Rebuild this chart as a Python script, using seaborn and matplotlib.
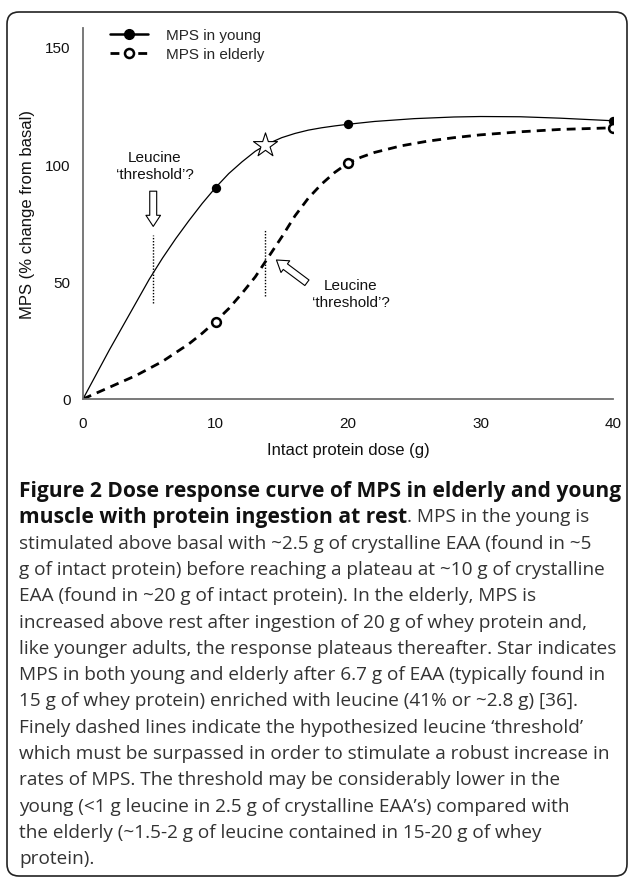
import matplotlib
matplotlib.use("Agg")
import matplotlib.pyplot as plt
import matplotlib.transforms as mtransforms
import seaborn as sns
from matplotlib.lines import Line2D
from matplotlib.patches import FancyBboxPatch

# measured points (intact protein dose in g, MPS % change from basal)
dose = [0, 10, 20, 40]
mps_young = [0, 90, 117, 118.5]
mps_elderly = [0, 33, 100.5, 115.5]

# fitted curves
curve_young_dose = [0, 1, 2, 3, 4, 5, 6, 7, 8, 9, 10, 11, 12, 13, 14, 15, 16, 17, 18,
                    19, 20, 22, 25, 28, 30, 33, 36, 40]
curve_young_mps = [0, 10.5, 21, 31, 41, 51, 60, 68.3, 76, 83.3, 90, 96, 101, 105.5,
                   108.8, 111.3, 113.1, 114.5, 115.5, 116.3, 117, 118.2, 119.4, 120.1,
                   120.3, 120.2, 119.6, 118.5]
curve_elderly_dose = [0, 2, 4, 6, 8, 9, 10, 11, 12, 13, 14, 15, 16, 17, 18, 19, 20,
                      21, 22, 24, 26, 28, 30, 33, 36, 40]
curve_elderly_mps = [0, 5, 10, 16, 23.5, 28, 33, 38.5, 45, 52, 60.5, 69, 78, 85.5,
                     91.5, 96.5, 100.5, 103, 105, 107.8, 109.8, 111.3, 112.5, 113.8,
                     114.8, 115.5]

# star: leucine-enriched EAA
star_dose = [13.7]
star_mps = [108]

# hypothesized leucine thresholds (dose, low, high)
threshold_young = (5.3, 41, 70)
threshold_elderly = (13.7, 44, 72)

caption_bold_1 = "Figure 2 Dose response curve of MPS in elderly and young"
caption_bold_2 = "muscle with protein ingestion at rest"
caption_rest_2 = ". MPS in the young is"
caption_lines = [
    "stimulated above basal with ~2.5 g of crystalline EAA (found in ~5",
    "g of intact protein) before reaching a plateau at ~10 g of crystalline",
    "EAA (found in ~20 g of intact protein). In the elderly, MPS is",
    "increased above rest after ingestion of 20 g of whey protein and,",
    "like younger adults, the response plateaus thereafter. Star indicates",
    "MPS in both young and elderly after 6.7 g of EAA (typically found in",
    "15 g of whey protein) enriched with leucine (41% or ~2.8 g) [36].",
    "Finely dashed lines indicate the hypothesized leucine \u2018threshold\u2019",
    "which must be surpassed in order to stimulate a robust increase in",
    "rates of MPS. The threshold may be considerably lower in the",
    "young (<1 g leucine in 2.5 g of crystalline EAA\u2019s) compared with",
    "the elderly (~1.5-2 g of leucine contained in 15-20 g of whey",
    "protein).",
]

sns.set_theme(style="white")
plt.rcParams["font.family"] = ["Liberation Sans", "DejaVu Sans"]

W, H = 629, 878
fig = plt.figure(figsize=(W / 100, H / 100), dpi=100)
ax = fig.add_axes([83 / W, 1 - 400 / H, 530 / W, 371 / H])

# curves
sns.lineplot(x=curve_young_dose, y=curve_young_mps, color="black", lw=0.9, ax=ax)
sns.lineplot(x=curve_elderly_dose, y=curve_elderly_mps, color="black", lw=2.0, ax=ax)
ax.lines[-1].set_dashes([3.2, 2.2])

# markers
sns.scatterplot(x=dose[1:], y=mps_young[1:], color="black", s=45, edgecolor="black",
                linewidth=0, zorder=5, ax=ax)
sns.scatterplot(x=dose[1:], y=mps_elderly[1:], facecolor="white", edgecolor="black",
                s=40, linewidth=1.8, zorder=5, ax=ax)
sns.scatterplot(x=star_dose, y=star_mps, marker="*", s=330, facecolor="white",
                edgecolor="black", linewidth=0.8, zorder=6, ax=ax)

# threshold lines
for x0, y0, y1 in (threshold_young, threshold_elderly):
    ax.plot([x0, x0], [y0, y1], color="black", lw=1.0, ls=(0, (1, 1.2)))

arrow_style = "simple,head_length=0.8,head_width=1.05,tail_width=0.5"
ax.annotate("", xy=(5.3, 73.5), xytext=(5.3, 88.5),
            arrowprops=dict(arrowstyle=arrow_style, fc="white", ec="black",
                            lw=0.8, mutation_scale=10, shrinkA=0, shrinkB=0))
ax.annotate("", xy=(14.6, 59.2), xytext=(16.9, 49.5),
            arrowprops=dict(arrowstyle=arrow_style, fc="white", ec="black",
                            lw=0.8, mutation_scale=10, shrinkA=0, shrinkB=0))
ax.text(5.4, 99.5, "Leucine\n\u2018threshold\u2019?", ha="center", va="center",
        fontsize=11, linespacing=1.3, color="#111111")
ax.text(20.2, 45, "Leucine\n\u2018threshold\u2019?", ha="center", va="center",
        fontsize=11, linespacing=1.3, color="#111111")

# axes styling
ax.set_xlim(0, 40)
ax.set_ylim(0, 158)
ax.set_xticks([0, 10, 20, 30, 40])
ax.set_yticks([0, 50, 100, 150])
sns.despine(ax=ax)
for side in ("left", "bottom"):
    ax.spines[side].set_color("#6e6e6e")
    ax.spines[side].set_linewidth(1.3)
ax.tick_params(axis="x", direction="in", length=4, width=1.0, color="#6e6e6e",
               pad=12, labelsize=11, labelcolor="#111111")
ax.tick_params(axis="y", length=0, pad=9, labelsize=11, labelcolor="#111111")
ax.set_xlabel("Intact protein dose (g)", fontsize=12, labelpad=9, color="#111111")
ax.set_ylabel("MPS (% change from basal)", fontsize=12, color="#111111")
ax.yaxis.set_label_coords(-0.09, 0.5)

handles = [
    Line2D([], [], color="black", lw=1.8, marker="o", ms=7),
    Line2D([], [], color="black", lw=2.0, ls=(0, (3.2, 6.8)), marker="o", ms=6.5,
           mfc="white", mew=1.8),
]
ax.legend(handles, ["MPS in young", "MPS in elderly"], loc="upper left",
          bbox_to_anchor=(0.051, 1.0), frameon=False, fontsize=11,
          handlelength=2.5, handletextpad=1.15, labelspacing=0.32,
          borderpad=0, borderaxespad=0)

# caption, font sizes fitted to the reference line widths
cap_font = ["Open Sans", "DejaVu Sans"]
cap_x = 19 / W
line_h = 26.3
renderer = fig.canvas.get_renderer()


def fitted_size(text, weight, target_px):
    probe = fig.text(0, 0, text, family=cap_font, fontweight=weight, fontsize=12)
    w = probe.get_window_extent(renderer).width
    probe.remove()
    return 12 * target_px / w


bold_size = fitted_size(caption_bold_1, "bold", 600)
reg_size = fitted_size(caption_lines[0], "normal", 573)

fig.text(cap_x, 1 - 491 / H, caption_bold_1, family=cap_font, fontweight="bold",
         fontsize=bold_size, va="center", color="#111111")
bold2 = fig.text(cap_x, 1 - (491 + line_h) / H, caption_bold_2, family=cap_font,
                 fontweight="bold", fontsize=bold_size, va="center", color="#111111")
bb = bold2.get_window_extent(renderer)
fig.text(bb.x1 / W, 1 - (491 + line_h) / H, caption_rest_2, family=cap_font,
         fontsize=reg_size, va="center", color="#333333")
for i, line in enumerate(caption_lines):
    fig.text(cap_x, 1 - (491 + line_h * (i + 2)) / H, line, family=cap_font,
             fontsize=reg_size, va="center", color="#333333")

# rounded frame
frame = FancyBboxPatch((7, 1), 620, 864, boxstyle="round,pad=0,rounding_size=12",
                       transform=mtransforms.IdentityTransform(),
                       fc="none", ec="#222222", lw=1.2)
fig.add_artist(frame)

fig.savefig("out.png", dpi=100)
